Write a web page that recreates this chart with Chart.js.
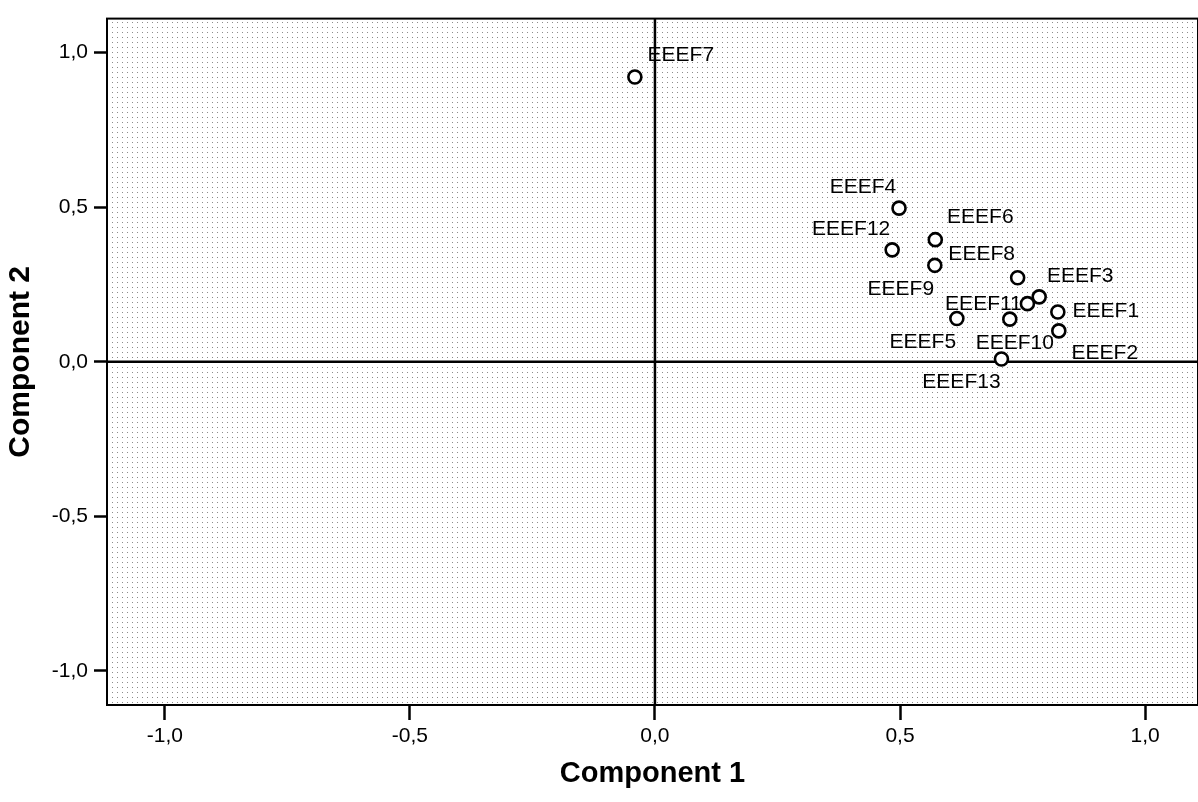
<!DOCTYPE html>
<html>
<head>
<meta charset="utf-8">
<title>Component Plot</title>
<script src="https://cdn.jsdelivr.net/npm/chart.js@4/dist/chart.umd.min.js"></script>
<style>
    html, body { margin: 0; padding: 0; background: #fff; overflow: hidden; }
    canvas { display: block; }
</style>
</head>
<body>
<canvas id="componentPlot" width="1198" height="802"></canvas>
<script>
// loadings
const pointLabels = ['EEEF1', 'EEEF2', 'EEEF3', 'EEEF4', 'EEEF5', 'EEEF6', 'EEEF7',
                     'EEEF8', 'EEEF9', 'EEEF10', 'EEEF11', 'EEEF12', 'EEEF13'];
const component1 = [0.822, 0.824, 0.784, 0.498, 0.616, 0.572, -0.041,
                    0.740, 0.571, 0.724, 0.760, 0.484, 0.707];
const component2 = [0.161, 0.100, 0.210, 0.497, 0.140, 0.395, 0.921,
                    0.272, 0.312, 0.138, 0.188, 0.362, 0.009];
const xTicks = [-1, -0.5, 0, 0.5, 1];
const yTicks = [-1, -0.5, 0, 0.5, 1];

// label placement (pixel offset of the label centre from its point)
const labelOffsets = {
    EEEF1: [48, -1], EEEF2: [46, 22], EEEF3: [41, -21], EEEF4: [-36, -21],
    EEEF5: [-34, 24], EEEF6: [45, -22], EEEF7: [46, -22], EEEF8: [-36, -23],
    EEEF9: [-34, 24], EEEF10: [5, 24], EEEF11: [-44, 1], EEEF12: [-41, -21],
    EEEF13: [-40, 23]
};

const FONT = '"Liberation Sans", Arial, sans-serif';

function commaFormat(v) {
    return v.toFixed(1).replace('.', ',');
}

function makeDotPattern(ctx) {
    const tile = document.createElement('canvas');
    tile.width = 5;
    tile.height = 5;
    const t = tile.getContext('2d');
    t.fillStyle = '#ffffff';
    t.fillRect(0, 0, 5, 5);
    t.fillStyle = '#8c8c8c';
    t.fillRect(2, 2, 1, 1);
    return ctx.createPattern(tile, 'repeat');
}

const plotFrame = {
    id: 'plotFrame',
    beforeDatasetsDraw(chart) {
        const ctx = chart.ctx;
        const area = chart.chartArea;
        const x = chart.scales.x;
        const y = chart.scales.y;
        ctx.save();
        ctx.fillStyle = makeDotPattern(ctx);
        ctx.fillRect(area.left, area.top, area.right - area.left, area.bottom - area.top);

        // reference lines at 0
        ctx.strokeStyle = '#000';
        ctx.lineWidth = 2.5;
        const x0 = x.getPixelForValue(0);
        const y0 = y.getPixelForValue(0);
        ctx.beginPath();
        ctx.moveTo(x0, area.top);
        ctx.lineTo(x0, area.bottom);
        ctx.moveTo(area.left, y0);
        ctx.lineTo(area.right, y0);
        ctx.stroke();

        ctx.lineWidth = 2;
        ctx.strokeRect(area.left, area.top, area.right - area.left, area.bottom - area.top);
        ctx.restore();
    },
    afterDatasetsDraw(chart) {
        const ctx = chart.ctx;
        const meta = chart.getDatasetMeta(0);
        ctx.save();
        ctx.font = '21px ' + FONT;
        ctx.fillStyle = '#000';
        ctx.textAlign = 'center';
        ctx.textBaseline = 'middle';
        meta.data.forEach((pt, i) => {
            const name = pointLabels[i];
            const off = labelOffsets[name] || [30, -20];
            ctx.fillText(name, pt.x + off[0], pt.y + off[1]);
        });
        ctx.restore();
    }
};

const ctx = document.getElementById('componentPlot').getContext('2d');

new Chart(ctx, {
    type: 'scatter',
    data: {
        datasets: [{
            label: 'Loadings',
            data: component1.map((v, i) => ({ x: v, y: component2[i] })),
            pointStyle: 'circle',
            pointRadius: 6.5,
            pointBorderWidth: 2.6,
            borderColor: '#000',
            backgroundColor: '#fff',
            pointHoverRadius: 6.5
        }]
    },
    options: {
        responsive: false,
        animation: false,
        layout: {
            autoPadding: false,
            padding: { top: 16, right: 0, left: 0, bottom: 0 }
        },
        plugins: {
            legend: { display: false },
            tooltip: { enabled: false }
        },
        scales: {
            x: {
                type: 'linear',
                min: -1.118,
                max: 1.108,
                afterBuildTicks: scale => { scale.ticks = xTicks.map(v => ({ value: v })); },
                afterFit: scale => {
                    scale.height = 97;
                    scale.paddingRight = 0;
                    scale.paddingLeft = 0;
                },
                grid: {
                    drawOnChartArea: false,
                    drawTicks: true,
                    tickLength: 15,
                    tickWidth: 2.5,
                    tickColor: '#000'
                },
                border: { display: false },
                ticks: {
                    color: '#000',
                    padding: 4,
                    maxRotation: 0,
                    font: { family: FONT, size: 21 },
                    callback: v => commaFormat(v)
                },
                title: {
                    display: true,
                    text: 'Component 1',
                    color: '#000',
                    padding: { top: 0, bottom: 11 },
                    font: { family: FONT, size: 29, weight: 'bold' }
                }
            },
            y: {
                type: 'linear',
                min: -1.11,
                max: 1.11,
                afterBuildTicks: scale => { scale.ticks = yTicks.map(v => ({ value: v })); },
                afterFit: scale => { scale.width = 107; },
                grid: {
                    drawOnChartArea: false,
                    drawTicks: true,
                    tickLength: 13,
                    tickWidth: 2.5,
                    tickColor: '#000'
                },
                border: { display: false },
                ticks: {
                    color: '#000',
                    padding: 6,
                    font: { family: FONT, size: 21 },
                    callback: v => commaFormat(v)
                },
                title: {
                    display: true,
                    text: 'Component 2',
                    color: '#000',
                    padding: { top: 3, bottom: 0 },
                    font: { family: FONT, size: 30, weight: 'bold' }
                }
            }
        }
    },
    plugins: [plotFrame]
});
</script>
</body>
</html>
